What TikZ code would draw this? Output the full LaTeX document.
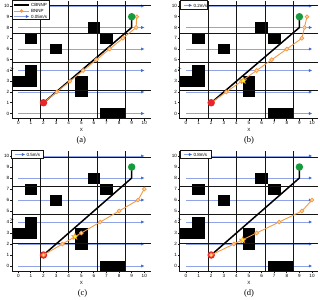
\documentclass[tikz,border=0pt]{standalone}
\usepackage{fontspec}
\setmainfont{Liberation Serif}
\setsansfont{Liberation Sans}
\usetikzlibrary{arrows.meta,shapes.geometric}

\definecolor{gridc}{HTML}{151515}
\definecolor{windc}{HTML}{8FA3E6}
\definecolor{windh}{HTML}{3D6BD0}
\definecolor{orangec}{HTML}{F39A45}
\definecolor{orangef}{HTML}{FDD5A8}
\definecolor{redc}{HTML}{E8252A}
\definecolor{greenc}{HTML}{179B3C}
\definecolor{stary}{HTML}{F5EB3A}

\tikzset{
 gridline/.style={draw=gridc, line width=0.9pt},
 wind/.style={draw=windc, line width=0.6pt, -{Triangle[length=3.2pt,width=2.8pt,color=windh]}},
 cbpath/.style={draw=black, line width=1.5pt, line join=round},
 bpath/.style={draw=orangec, line width=0.9pt},
 bmark/.style={circle, draw=orangec, fill=orangef, line width=0.7pt, inner sep=0pt, minimum size=3.9pt},
 startpt/.style={circle, fill=redc, inner sep=0pt, minimum size=7.5pt},
 goalpt/.style={circle, fill=greenc, inner sep=0pt, minimum size=7.5pt},
 hit/.style={star, star points=5, star point ratio=2.3, fill=stary, draw=orange!90!black, line width=0.3pt, inner sep=0pt, minimum size=7pt},
 ticklab/.style={font=\sffamily\fontsize{4.6}{5}\selectfont, inner sep=0.5pt},
 leglab/.style={font=\sffamily\fontsize{4.5}{5}\selectfont, inner sep=0pt, anchor=west},
 captext/.style={font=\fontsize{8.5}{10}\selectfont, inner sep=0pt},
 legbox/.style={draw=gridc, fill=white, line width=0.6pt},
}

\newcommand\basepanel[1]{%
 \foreach \yy in {0,2,...,10} \draw[wind] (0,\yy) -- (10,\yy);
 \fill (-0.5,2.5) rectangle (1.5,3.5);
 \fill (0.5,3.5) rectangle (1.5,4.5);
 \fill (0.5,6.5) rectangle (1.5,7.5);
 \fill (2.5,5.5) rectangle (3.5,6.5);
 \fill (4.5,1.5) rectangle (5.5,3.5);
 \fill (5.5,7.5) rectangle (6.5,8.5);
 \fill (6.5,6.5) rectangle (7.5,7.5);
 \fill (6.5,-0.5) rectangle (8.5,0.5);
 \draw[gridline, shift={(-0.5,-0.5)}] (0,0) grid (11,11);
 \foreach \i in {0,...,10} {%
   \draw[gridline] (\i,-0.5) -- ++(0,-1.8pt) node[ticklab, below] (#1x\i) {\i};
   \draw[gridline] (-0.5,\i) -- ++(-1.8pt,0) node[ticklab, left] (#1y\i) {\i};
 }
 \node[ticklab, yshift=-11.5pt] (#1xl) at (5,-0.5) {X};
 \node[ticklab, rotate=90, xshift=-9pt] (#1yl) at (-0.5,5) {Y};
}

\begin{document}
\begin{tikzpicture}[x=1pt,y=-1pt]
\useasboundingbox (0,0) rectangle (320,299);

% ---------------- (a)
\begin{scope}[shift={(18.3,113.5)}, x=12.6pt, y=10.75pt]
 \basepanel{a}
 \draw[cbpath] (2,1) -- (9,8) -- (9,9);
 \draw[bpath] (2,1) -- (3.05,2) -- (4.1,3) -- (5.15,4) -- (6.2,5) -- (7.25,6) -- (8.3,7) -- (9.35,8) -- (9.4,9);
 \foreach \p [count=\k] in {(3.05,2),(4.1,3),(5.15,4),(6.2,5),(7.25,6),(8.3,7),(9.35,8),(9.4,9)}
   \node[bmark] (am\k) at \p {};
 \node[startpt] (as) at (2,1) {};
 \node[goalpt] (ag) at (9,9) {};
\end{scope}
\draw[legbox] (12,0.8) rectangle (49,19);
\draw[cbpath] (14,5) -- (29,5);
\node[leglab] (al1) at (31,5) {CBNNP};
\draw[bpath] (14,11) -- (29,11);
\node[circle, fill=orangec, inner sep=0pt, minimum size=3.6pt] (alm) at (21.5,11) {};
\node[leglab] (al2) at (31,11) {BNNP};
\draw[wind] (14,16.5) -- (29,16.5);
\node[leglab] (al3) at (31,16.5) {0.05m/s};
\node[captext] (capa) at (81.3,140) {(a)};

% ---------------- (b)
\begin{scope}[shift={(186,113.5)}, x=12.6pt, y=10.75pt]
 \basepanel{b}
 \draw[cbpath] (2,1) -- (9,8) -- (9,9);
 \draw[bpath] (2,1) -- (3.2,2) -- (4.4,3) -- (5.6,4) -- (6.8,5) -- (8.0,6) -- (9.2,7) -- (9.4,8) -- (9.6,9);
 \foreach \p [count=\k] in {(3.2,2),(4.4,3),(5.6,4),(6.8,5),(8.0,6),(9.2,7),(9.4,8),(9.6,9)}
   \node[bmark] (bm\k) at \p {};
 \node[hit] (bh) at (4.55,3.05) {};
 \node[startpt] (bs) at (2,1) {};
 \node[goalpt] (bg) at (9,9) {};
\end{scope}
\draw[legbox] (180,0.6) rectangle (207,9.8);
\draw[wind] (184,5.4) -- (192,5.4);
\node[leglab] (bl1) at (193.5,5.4) {0.2m/s};
\node[captext] (capb) at (249,140) {(b)};

% ---------------- (c)
\begin{scope}[shift={(18.3,266)}, x=12.6pt, y=11pt]
 \basepanel{c}
 \draw[cbpath] (2,1) -- (9,8) -- (9,9);
 \node[startpt] (cs) at (2,1) {};
 \draw[bpath] (2,1) -- (3.5,2) -- (5,3) -- (6.5,4) -- (8,5) -- (9.5,6) -- (10,7);
 \foreach \p [count=\k] in {(2,1),(3.5,2),(5,3),(6.5,4),(8,5),(9.5,6),(10,7)}
   \node[bmark] (cm\k) at \p {};
 \node[hit] (ch) at (4.5,2.67) {};
 \node[goalpt] (cg) at (9,9) {};
\end{scope}
\draw[legbox] (11.5,150.4) rectangle (43.5,158.6);
\draw[wind] (15,154.5) -- (25,154.5);
\node[leglab] (cl1) at (26.5,154.5) {0.5m/s};
\node[captext] (capc) at (82.5,293.5) {(c)};

% ---------------- (d)
\begin{scope}[shift={(186,266)}, x=12.6pt, y=11pt]
 \basepanel{d}
 \draw[cbpath] (2,1) -- (9,8) -- (9,9);
 \node[startpt] (ds) at (2,1) {};
 \draw[bpath] (2,1) -- (3.8,2) -- (5.6,3) -- (7.4,4) -- (9.2,5) -- (10,6);
 \foreach \p [count=\k] in {(2,1),(3.8,2),(5.6,3),(7.4,4),(9.2,5),(10,6)}
   \node[bmark] (dm\k) at \p {};
 \node[hit] (dh) at (4.5,2.35) {};
 \node[goalpt] (dg) at (9,9) {};
\end{scope}
\draw[legbox] (180,150.4) rectangle (211.5,158.6);
\draw[wind] (183.5,154.5) -- (192,154.5);
\node[leglab] (dl1) at (193.5,154.5) {0.8m/s};
\node[captext] (capd) at (249,293.5) {(d)};
\end{tikzpicture}
\end{document}
